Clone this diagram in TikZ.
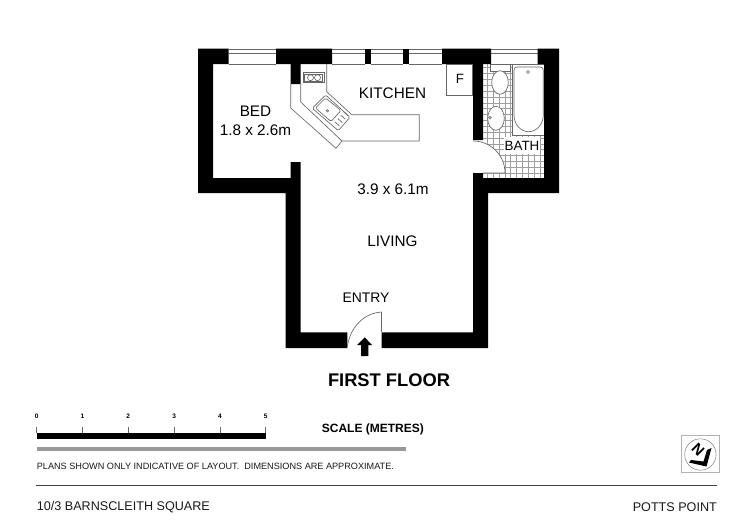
\documentclass[tikz,border=0pt]{standalone}
\usepackage{fontspec}
\setmainfont{Liberation Sans}
\tikzset{
 wall/.style={fill=black,draw=none},
 fixture/.style={draw=black!60,line width=0.65pt,fill=white},
 thinline/.style={draw=black!60,line width=0.65pt},
 tile/.style={draw=black!38,line width=0.8pt},
 lbl/.style={inner sep=0pt,font=\fontsize{15.3}{17}\selectfont,align=center,text=black},
 small/.style={inner sep=0pt,font=\bfseries\fontsize{6.5}{7}\selectfont},
}
\begin{document}
\begin{tikzpicture}[x=1pt,y=-1pt]
\useasboundingbox (0,0) rectangle (750,530);
\fill[white] (0,0) rectangle (750,530);
% tiles
\begin{scope}
\clip (483,64) rectangle (544,178);
\foreach \i in {0,...,11} \draw[tile] ({481.6+5.85*\i},64) -- ({481.6+5.85*\i},178);
\foreach \i in {0,...,20} \draw[tile] (483,{62+5.85*\i}) -- (544,{62+5.85*\i});
\end{scope}
% bath
\path[fixture] (512.5,64) rectangle (544,135);
\path[fixture] (514,67) [rounded corners=3pt] -- (543.3,67) [rounded corners=0pt] -- (543.3,115) .. controls (543.3,125) and (536,131.7) .. (528.6,131.7) .. controls (521,131.7) and (514,125) .. (514,115) [rounded corners=3pt] -- cycle;
\draw[thinline,fill=white] (528,72) circle (1.5);
% toilet
\path[fixture] (490,64) rectangle (510,71);
\path[fixture] (500,82.5) ellipse (8.3 and 11.8);
% basin
\path[fixture] (496,118.3) ellipse (8.3 and 12);
\draw[thinline] (490,117.7) circle (1.3);
% bath label
\node[fixture,draw=none,minimum width=36pt,minimum height=17pt,inner sep=0pt] (bathbox) at (522,145.5) {};
\node[lbl,font=\fontsize{13.4}{15}\selectfont] (bath) at (522,146) {BATH};
% door swing to bath
\path[draw=none,fill=white] (473,141) .. controls (490.7,141) and (505,155.3) .. (505,173) -- (473,173) -- cycle;
\draw[thinline] (473,141) .. controls (490.7,141) and (505,155.3) .. (505,173) -- (483,173);
% window glazing
\foreach \a/\b in {228.7/276,332/365,371/403,409/442,491/537.7}{
 \draw[thinline] (\a,49.2) -- (\b,49.2);
 \draw[thinline] (\a,53.5) -- (\b,53.5);
 \draw[thinline] (\a,64) -- (\b,64);
}
% walls
\path[wall] (198,48.7) -- (228.7,48.7) -- (228.7,64) -- (213,64) -- (213,178) -- (290.7,178) -- (290.7,162) -- (300.7,162) -- (300.7,332.3) -- (347.3,332.3) -- (347.3,348) -- (285.5,348) -- (285.5,193) -- (198,193) -- cycle;
\path[wall] (276,48.7) -- (332,48.7) -- (332,64) -- (300.7,64) -- (300.7,84) -- (290.7,84) -- (290.7,64) -- (276,64) -- cycle;
\path[wall] (365,48.7) rectangle (371,64);
\path[wall] (403,48.7) rectangle (409,64);
\path[wall] (442,48.7) -- (491,48.7) -- (491,64) -- (483,64) -- (483,140) -- (473,140) -- (473,64) -- (442,64) -- cycle;
\path[wall] (537.7,48.7) -- (559,48.7) -- (559,193) -- (488,193) -- (488,348) -- (381.7,348) -- (381.7,332.3) -- (473,332.3) -- (473,173) -- (483,173) -- (483,178) -- (544,178) -- (544,64) -- (537.7,64) -- cycle;
% fridge
\node[fixture,minimum width=25.6pt,minimum height=31pt,inner sep=0pt] (fridge) at (459.5,79.5) {};
\node[lbl,font=\fontsize{13.4}{15}\selectfont] (flabel) at (460,78.5) {F};
% counter
\draw[thinline] (290.7,84) -- (290.7,108) -- (336,148.3) -- (342,141) -- (419.3,141) -- (419.3,114.7) -- (351.7,114.7) -- (326.7,91.7) -- (326.7,64);
\draw[thinline] (300.7,84) -- (300.7,102) -- (342,141);
% hob
\draw[thinline] (303.3,72.7) rectangle (324,82.7);
\draw[thinline] (304.8,74) rectangle (322.5,81.4);
\draw[thinline] (310.5,77.7) circle (3);
\draw[thinline] (317.5,77.7) circle (3);
% sink
\draw[thinline,fill=white,rounded corners=1.5pt] (325.7,95) -- (312.3,108.3) -- (338.3,130.7) -- (350,117.3) -- cycle;
\draw[thinline,rounded corners=1.5pt] (325.5,98) -- (315.5,108) -- (331,121.5) -- (341,110.5) -- cycle;
\draw[thinline] (327.5,110.8) circle (1.2);
\foreach \k in {0,1,2,3}{
 \draw[thinline] ({335+2.9*\k},{122-3.4*\k}) -- ({339.5+2.9*\k},{126-3.4*\k});
}
% door entry
\draw[thinline] (381.7,332.3) -- (381.7,312);
\draw[thinline] (381.7,312) .. controls (364,313) and (350,327) .. (347.3,347);
% arrow
\path[wall] (361,356) -- (368.3,356) -- (368.3,345) -- (372,345) -- (364.7,337.3) -- (357,345) -- (361,345) -- cycle;
% labels
\node[lbl] (bed) at (255.5,111) {BED};
\node[lbl] (beddim) at (255.5,130) {1.8 x 2.6m};
\node[lbl] (kitchen) at (392.5,93) {KITCHEN};
\node[lbl] (dim) at (393,189.5) {3.9 x 6.1m};
\node[lbl] (living) at (392.5,241.5) {LIVING};
\node[lbl,font=\fontsize{13.9}{16}\selectfont] (entry) at (366,298) {ENTRY};
\node[inner sep=0pt,font=\bfseries\fontsize{18.3}{20}\selectfont] (floor) at (389,380) {FIRST FLOOR};
% scale
\path[wall] (36.7,433) rectangle (265.7,439);
\foreach \i/\t in {0/0,1/1,2/2,3/3,4/4,5/5}{
 \draw[black!60,line width=0.5pt] ({36.7+45.8*\i},427) -- ({36.7+45.8*\i},433);
 \node[small] (n\i) at ({36.7+45.8*\i},416.7) {\t};
}
\node[inner sep=0pt,anchor=west,font=\bfseries\fontsize{12}{13}\selectfont] (scale) at (321.7,429) {SCALE (METRES)};
\path[fill=black!40] (36.7,446.5) rectangle (406,450.5);
\node[inner sep=0pt,anchor=west,font=\fontsize{9.13}{10}\selectfont,text=black!90] (plans) at (36.7,466) {PLANS SHOWN ONLY INDICATIVE OF LAYOUT.\ \ DIMENSIONS ARE APPROXIMATE.};
\draw[black!75,line width=0.7pt] (36,485.5) -- (717,485.5);
\node[inner sep=0pt,anchor=west,font=\fontsize{12.6}{14}\selectfont,text=black!90] (addr) at (36.7,507) {10/3 BARNSCLEITH SQUARE};
\node[inner sep=0pt,anchor=east,font=\fontsize{12.6}{14}\selectfont,text=black!90] (suburb) at (717,507) {POTTS POINT};
% north
\draw[black!30,line width=0.6pt] (681.7,435.7) rectangle (719,472.7);
\draw[black!50,line width=0.5pt] (700.4,454.5) circle (15.7);
\path[wall] (689,462.5) -- (706.5,466.5) -- (711.5,448) -- (707,450) -- (703.5,461.5) -- (691,460) -- cycle;
\node[inner sep=0pt,rotate=-45,font=\bfseries\fontsize{15}{16}\selectfont] (north) at (698,449.5) {N};
\end{tikzpicture}
\end{document}
